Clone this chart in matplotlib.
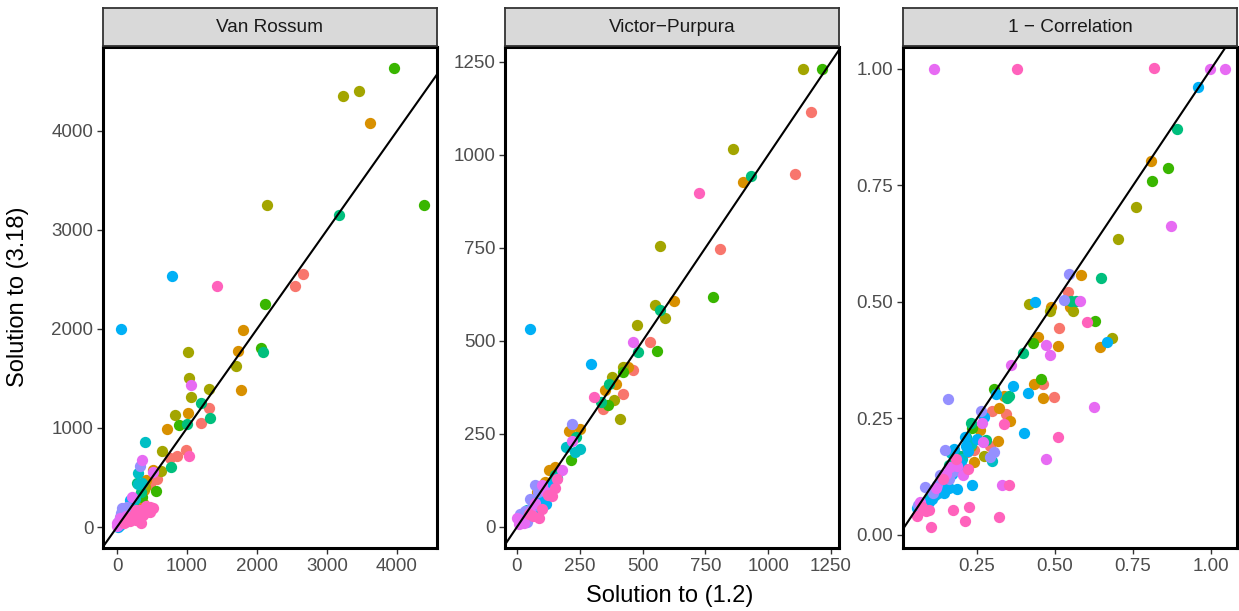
import matplotlib
matplotlib.use("Agg")
import matplotlib.pyplot as plt

plt.rcParams['font.family'] = ['Liberation Sans', 'DejaVu Sans']

# ggplot hue palette, 10 groups
colours = ['#F8766D', '#D89000', '#A3A500', '#39B600', '#00BF7D',
           '#00BFC4', '#00B0F6', '#9590FF', '#E76BF3', '#FF62BC']

titles = ['Van Rossum', 'Victor\u2212Purpura', '1 \u2212 Correlation']

# Van Rossum: one list per group
vr_x = [[2650, 2540, 1320, 1200, 980, 860, 760, 565, 470, 300, 200, 150, 90],
        [3610, 1800, 1725, 1770, 1010, 720, 512, 420, 380, 371, 324, 250, 150, 200],
        [3230, 3460, 2140, 1015, 1705, 1025, 1310, 1060, 830, 637, 622, 400, 120],
        [3950, 4390, 2110, 2050, 890, 556, 350, 100],
        [3170, 2090, 1205, 1335, 995, 768, 340, 290, 150, 230, 60],
        [405, 307, 357, 305, 157, 120, 80, 250, 200, 40],
        [780, 60, 181, 110, 157, 60, 30, 130, 90, 10],
        [322, 76, 62, 40, 20, 110, 140, 10, 50],
        [1060, 355, 515, 219, 38, 0, 20, 60, 90, 130, 5, 150],
        [1427, 1027, 467, 467, 348, 276, 229, 371, 419, 276, 514, 180, 100, 300,
         420, 250, 150, 330]]
vr_y = [[2560, 2435, 1205, 1050, 775, 722, 700, 482, 430, 300, 180, 120, 60],
        [4080, 1990, 1780, 1385, 1155, 990, 578, 475, 374, 239, 273, 200, 120, 150],
        [4350, 4400, 3250, 1765, 1630, 1500, 1390, 1312, 1132, 764, 567, 400, 110],
        [4640, 3250, 2250, 1805, 1035, 366, 300, 80],
        [3150, 1765, 1252, 1096, 1040, 611, 350, 441, 150, 250, 40],
        [858, 548, 448, 430, 189, 150, 70, 280, 220, 25],
        [2540, 2000, 273, 54, 104, 60, 20, 90, 70, 5],
        [620, 195, 138, 100, 50, 150, 200, 30, 60],
        [1430, 680, 556, 300, 88, 37, 20, 40, 70, 110, 10, 60],
        [2430, 720, 205, 155, 43, 172, 104, 121, 155, 71, 189, 60, 40, 100,
         210, 140, 90, 175]]

# Victor-Purpura
vp_x = [[1170, 1105, 810, 528, 463, 421, 342, 130, 60],
        [900, 625, 441, 395, 349, 208, 250, 128, 151, 110, 80],
        [1140, 860, 570, 551, 590, 476, 421, 380, 385, 412, 100],
        [1215, 782, 559, 422, 362, 214, 90],
        [932, 570, 483, 368, 336, 237, 150],
        [197, 250, 230, 158, 145, 72, 110, 40],
        [53, 293, 114, 59, 90, 30, 130],
        [220, 70, 53, 33, 13, 39, 85, 20, 60],
        [461, 220, 178, 99, 72, 20, 7, 0, 50, 30, 115],
        [725, 305, 151, 141, 101, 88, 46, 125, 65, 160]]
vp_y = [[1115, 948, 746, 498, 422, 357, 318, 90, 50],
        [928, 607, 429, 384, 368, 259, 262, 154, 161, 120, 95],
        [1230, 1015, 754, 597, 562, 544, 429, 403, 342, 290, 90],
        [1230, 619, 473, 416, 329, 179, 85],
        [944, 582, 471, 384, 335, 243, 140],
        [216, 209, 201, 132, 122, 34, 95, 45],
        [533, 438, 63, 44, 80, 30, 110],
        [278, 112, 75, 44, 34, 13, 95, 20, 55],
        [496, 232, 154, 112, 65, 18, 7, 23, 40, 12, 95],
        [898, 350, 104, 84, 49, 23, 34, 86, 30, 130]]

# 1 - Correlation
co_x = [[0.543, 0.513, 0.461, 0.498, 0.298, 0.343, 0.290, 0.240, 0.218, 0.175],
        [0.806, 0.583, 0.486, 0.548, 0.445, 0.509, 0.643, 0.432, 0.460, 0.336,
         0.319, 0.355, 0.261, 0.316, 0.239, 0.200],
        [0.759, 0.703, 0.417, 0.483, 0.559, 0.682, 0.271, 0.230],
        [0.862, 0.812, 0.627, 0.429, 0.455, 0.303, 0.235],
        [0.891, 0.647, 0.550, 0.568, 0.396, 0.351, 0.346, 0.231, 0.279, 0.196,
         0.215, 0.160],
        [0.299, 0.167, 0.202, 0.116, 0.220, 0.180, 0.150, 0.230, 0.100],
        [0.957, 0.436, 0.666, 0.364, 0.413, 0.311, 0.271, 0.399, 0.249, 0.210,
         0.222, 0.175, 0.234, 0.154, 0.186, 0.145, 0.105, 0.095, 0.059, 0.130,
         0.170, 0.200, 0.160, 0.125, 0.140, 0.190, 0.215, 0.115],
        [0.546, 0.529, 0.157, 0.264, 0.305, 0.293, 0.146, 0.121, 0.083, 0.132,
         0.159, 0.062, 0.110, 0.190, 0.170],
        [0.112, 0.998, 1.043, 0.872, 0.579, 0.470, 0.485, 0.359, 0.625, 0.265,
         0.268, 0.471, 0.186, 0.164, 0.205, 0.330, 0.068, 0.150, 0.120],
        [0.379, 0.818, 0.602, 0.336, 0.508, 0.184, 0.220, 0.352, 0.172, 0.225,
         0.059, 0.095, 0.087, 0.210, 0.322, 0.102, 0.140, 0.075]]
co_y = [[0.522, 0.443, 0.324, 0.296, 0.267, 0.260, 0.191, 0.183, 0.179, 0.140],
        [0.802, 0.557, 0.489, 0.489, 0.424, 0.406, 0.404, 0.324, 0.294, 0.299,
         0.273, 0.245, 0.225, 0.201, 0.156, 0.140],
        [0.704, 0.635, 0.496, 0.480, 0.480, 0.423, 0.170, 0.190],
        [0.788, 0.760, 0.460, 0.412, 0.334, 0.313, 0.230],
        [0.872, 0.552, 0.503, 0.502, 0.390, 0.298, 0.293, 0.240, 0.204, 0.170,
         0.210, 0.150],
        [0.158, 0.176, 0.162, 0.086, 0.200, 0.150, 0.120, 0.195, 0.080],
        [0.961, 0.500, 0.415, 0.319, 0.305, 0.302, 0.253, 0.218, 0.205, 0.210,
         0.181, 0.184, 0.107, 0.111, 0.099, 0.091, 0.078, 0.070, 0.057, 0.100,
         0.130, 0.150, 0.100, 0.090, 0.120, 0.160, 0.190, 0.095],
        [0.560, 0.504, 0.292, 0.265, 0.179, 0.168, 0.183, 0.107, 0.102, 0.128,
         0.120, 0.065, 0.090, 0.140, 0.135],
        [1.000, 1.000, 1.000, 0.663, 0.502, 0.408, 0.386, 0.364, 0.274, 0.240,
         0.200, 0.162, 0.149, 0.145, 0.128, 0.108, 0.070, 0.130, 0.100],
        [1.000, 1.002, 0.457, 0.238, 0.210, 0.162, 0.141, 0.108, 0.054, 0.061,
         0.040, 0.053, 0.051, 0.029, 0.038, 0.017, 0.120, 0.060]]

xs = [vr_x, vp_x, co_x]
ys = [vr_y, vp_y, co_y]
xticks = [[0, 1000, 2000, 3000, 4000], [0, 250, 500, 750, 1000, 1250], [0.25, 0.5, 0.75, 1.0]]
yticks = [[0, 1000, 2000, 3000, 4000], [0, 250, 500, 750, 1000, 1250], [0, 0.25, 0.5, 0.75, 1.0]]
xlims = [(-200, 4571), (-47.6, 1282), (0.0128, 1.083)]
ylims = [(-212, 4848), (-56.5, 1290), (-0.028, 1.047)]

W, H = 1239, 611
fig = plt.figure(figsize=(W / 100, H / 100), dpi=100)
lefts = [103, 505, 903]
pw = 334

for k in range(3):
    l = lefts[k]
    ax = fig.add_axes([l / W, (H - 548) / H, pw / W, 501 / H])
    for g in range(10):
        ax.scatter(xs[k][g], ys[k][g], s=66, color=colours[g], linewidths=0, zorder=2)
    ax.axline((0, 0), slope=1, color='black', lw=1.5, zorder=3)
    ax.set_xlim(*xlims[k])
    ax.set_ylim(*ylims[k])
    ax.set_xticks(xticks[k])
    ax.set_yticks(yticks[k])
    if k == 2:
        ax.set_xticklabels(['%.2f' % v for v in xticks[k]])
        ax.set_yticklabels(['%.2f' % v for v in yticks[k]])
    ax.tick_params(length=4, width=1, color='#333333', labelcolor='#4D4D4D',
                   labelsize=13.5, pad=3)
    for sp in ax.spines.values():
        sp.set_linewidth(2.2)
        sp.set_color('black')

    st = fig.add_axes([l / W, (H - 46) / H, pw / W, 38 / H])
    st.set_facecolor('#D9D9D9')
    st.set_xticks([])
    st.set_yticks([])
    for sp in st.spines.values():
        sp.set_linewidth(1.3)
        sp.set_color('#333333')
    st.text(0.5, 0.5, titles[k], ha='center', va='center', fontsize=13.7,
            color='#1A1A1A', transform=st.transAxes)

fig.text(670 / W, (H - 596) / H, 'Solution to (1.2)', ha='center', va='center', fontsize=17)
fig.text(18 / W, (H - 297) / H, 'Solution to (3.18)', ha='center', va='center',
         rotation=90, fontsize=17)

fig.savefig('out.png', dpi=100)
